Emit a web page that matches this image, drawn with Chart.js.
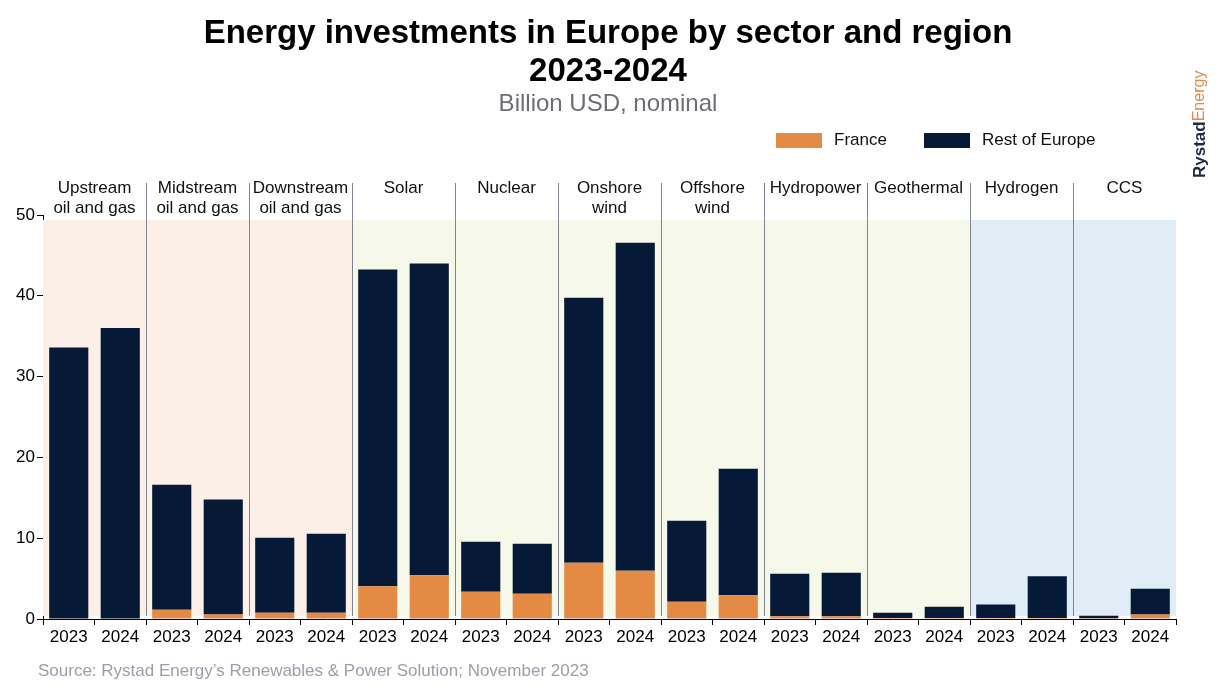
<!DOCTYPE html>
<html>
<head>
<meta charset="utf-8">
<title>Energy investments in Europe by sector and region</title>
<script src="https://cdn.jsdelivr.net/npm/chart.js@4.4.1/dist/chart.umd.min.js"></script>
<style>
  html, body { margin: 0; padding: 0; background: #fff; }
  #wrap { width: 1218px; height: 690px; position: relative; }
</style>
</head>
<body>
<div id="wrap"><canvas id="chart"></canvas></div>
<script>
// Data (billion USD, nominal)
const years = ['2023', '2024']
const sectors = ['Upstream\noil and gas', 'Midstream\noil and gas', 'Downstream\noil and gas', 'Solar', 'Nuclear',
  'Onshore\nwind', 'Offshore\nwind', 'Hydropower', 'Geothermal', 'Hydrogen', 'CCS']
const sectorBands = ['oil', 'oil', 'oil', 'green', 'green', 'green', 'green', 'green', 'green', 'new', 'new']
const franceValues = [0, 0, 1.15, 0.57, 0.78, 0.78, 4.04, 5.4, 3.38, 3.13, 6.97, 5.98, 2.14, 2.93, 0.33, 0.33, 0.12, 0.12, 0.12, 0.12, 0.1, 0.57]
const restValues = [33.6, 36.0, 15.45, 14.23, 9.29, 9.78, 39.2, 38.6, 6.19, 6.19, 32.8, 40.6, 10.03, 15.68, 5.28, 5.4, 0.66, 1.4, 1.69, 5.16, 0.31, 3.18]
const yTicks = [0, 10, 20, 30, 40, 50]
const bandTop = 49.4

const bandColors = { oil: '#fbefe8', green: '#f6f9ea', new: '#e1edf6' }
const labels = []
sectors.forEach(() => years.forEach(y => labels.push(y)))

const FONT = '"Liberation Sans", Arial, sans-serif'

// background bands, separators and all the loose text
const decor = {
  id: 'decor',
  beforeDatasetsDraw(chart) {
    const { ctx, scales: { x, y } } = chart
    const half = (x.getPixelForValue(1) - x.getPixelForValue(0)) / 2
    const top = y.getPixelForValue(bandTop)
    const bottom = y.getPixelForValue(0) - 3
    ctx.save()
    sectors.forEach((s, i) => {
      const left = x.getPixelForValue(i * 2) - half
      const right = x.getPixelForValue(i * 2 + 1) + half
      ctx.fillStyle = bandColors[sectorBands[i]]
      ctx.fillRect(left, top, right - left, bottom - top)
    })
    ctx.strokeStyle = '#7f848e'
    ctx.lineWidth = 1
    for (let i = 1; i < sectors.length; i++) {
      const px = Math.round(x.getPixelForValue(i * 2) - half) + 0.5
      ctx.beginPath()
      ctx.moveTo(px, 183)
      ctx.lineTo(px, bottom)
      ctx.stroke()
    }
    ctx.restore()
  },
  afterDraw(chart) {
    const { ctx, scales: { x } } = chart
    const half = (x.getPixelForValue(1) - x.getPixelForValue(0)) / 2
    ctx.save()
    ctx.textAlign = 'center'
    ctx.textBaseline = 'middle'

    // title
    ctx.fillStyle = '#000'
    ctx.font = 'bold 33px ' + FONT
    ctx.fillText('Energy investments in Europe by sector and region', 608, 34)
    ctx.fillText('2023-2024', 608, 72)
    ctx.fillStyle = '#6b6e73'
    ctx.font = '24px ' + FONT
    ctx.fillText('Billion USD, nominal', 608, 104)

    // sector headers
    ctx.fillStyle = '#111'
    ctx.font = '17px ' + FONT
    sectors.forEach((s, i) => {
      const cx = x.getPixelForValue(i * 2) + half
      s.split('\n').forEach((line, j) => ctx.fillText(line, cx, 188 + j * 20))
    })

    // legend
    ctx.textAlign = 'left'
    ctx.font = '17px ' + FONT
    let lx = 776
    chart.data.datasets.forEach(ds => {
      ctx.fillStyle = ds.backgroundColor
      ctx.fillRect(lx, 133, 46, 15)
      ctx.fillStyle = '#111'
      ctx.fillText(ds.label, lx + 58, 140)
      lx += 148
    })

    // source
    ctx.fillStyle = '#9aa0ab'
    ctx.font = '17px ' + FONT
    ctx.fillText('Source: Rystad Energy\u2019s Renewables & Power Solution; November 2023', 38, 671)

    // logo
    ctx.translate(1200, 178)
    ctx.rotate(-Math.PI / 2)
    ctx.font = 'bold 17px ' + FONT
    ctx.fillStyle = '#1f2a44'
    ctx.fillText('Rystad', 0, 0)
    const w = ctx.measureText('Rystad').width
    ctx.font = '16px ' + FONT
    ctx.fillStyle = '#e38a45'
    ctx.fillText('Energy', w, 0)
    ctx.restore()
  }
}

const ctx = document.getElementById('chart').getContext('2d')
new Chart(ctx, {
  type: 'bar',
  data: {
    labels,
    datasets: [
      { label: 'France', data: franceValues, backgroundColor: '#e38a45' },
      { label: 'Rest of Europe', data: restValues, backgroundColor: '#061a38' }
    ]
  },
  options: {
    responsive: true,
    maintainAspectRatio: false,
    animation: false,
    devicePixelRatio: 1,
    datasets: { bar: { categoryPercentage: 1, barPercentage: 0.76 } },
    layout: { padding: { top: 215, right: 42, bottom: 40, left: 0 } },
    plugins: { legend: { display: false }, tooltip: { enabled: false } },
    scales: {
      x: {
        stacked: true,
        afterFit: s => { s.height = 31 },
        grid: { drawOnChartArea: false, offset: true, tickLength: 6, color: '#000' },
        border: { color: '#000', width: 1 },
        ticks: { color: '#000', font: { family: FONT, size: 17 }, padding: 2, maxRotation: 0, autoSkip: false }
      },
      y: {
        stacked: true,
        min: 0,
        max: 50,
        afterFit: s => { s.width = 43 },
        afterBuildTicks: s => { s.ticks = yTicks.map(v => ({ value: v })) },
        grid: { drawOnChartArea: false, tickLength: 6, color: '#000' },
        border: { color: '#000', width: 1 },
        ticks: { color: '#000', font: { family: FONT, size: 17 }, padding: 2 }
      }
    }
  },
  plugins: [decor]
})
</script>
</body>
</html>
